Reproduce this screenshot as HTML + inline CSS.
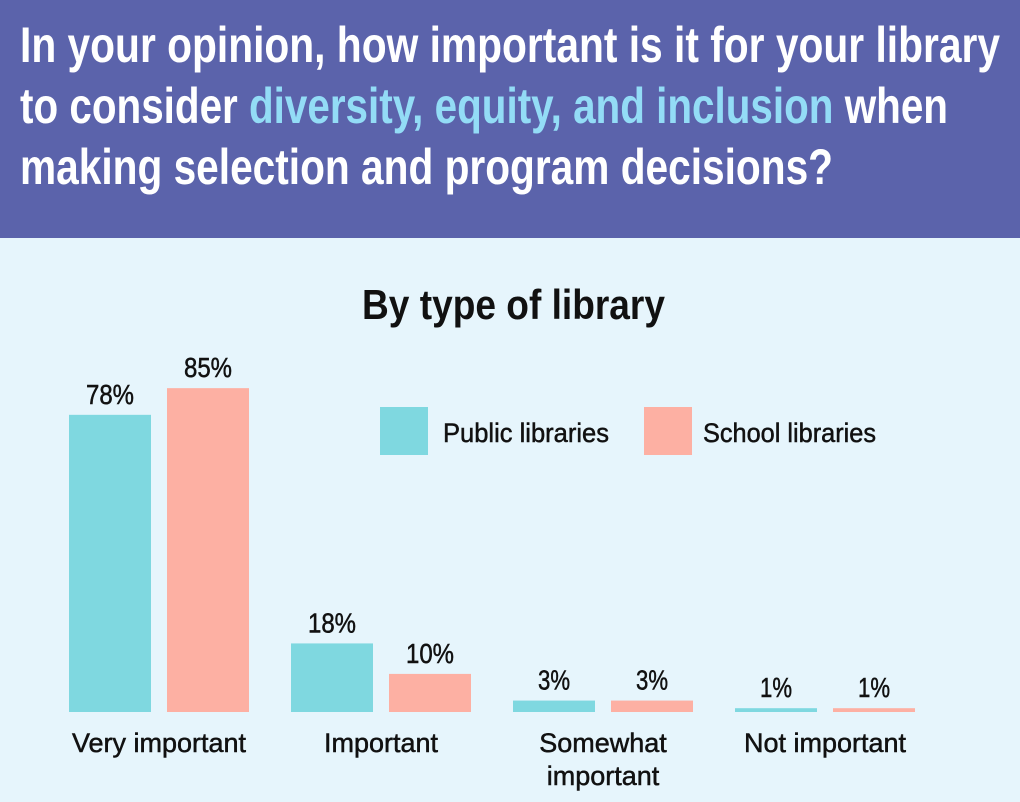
<!DOCTYPE html>
<html><head><meta charset="utf-8"><style>
html,body{margin:0;padding:0;background:#e6f5fc;}
svg{display:block;font-family:"Liberation Sans",sans-serif;}
</style></head><body>
<svg id="chart" width="1020" height="802" viewBox="0 0 1020 802">
<rect x="0" y="0" width="1020" height="802" fill="#e6f5fc"/>
<rect x="0" y="0" width="1020" height="238" fill="#5b63ab"/>
<g font-weight="bold" font-size="50" fill="#ffffff">
<text x="20" y="62" textLength="980" lengthAdjust="spacingAndGlyphs">In your opinion, how important is it for your library</text>
<text x="20" y="123" textLength="928" lengthAdjust="spacingAndGlyphs">to consider <tspan fill="#93dcf6">diversity, equity, and inclusion</tspan> when</text>
<text x="20" y="184" textLength="813" lengthAdjust="spacingAndGlyphs">making selection and program decisions?</text>
</g>
<text x="362" y="319" font-size="42" font-weight="bold" fill="#111" textLength="303" lengthAdjust="spacingAndGlyphs">By type of library</text>
<g>
<rect x="380" y="407" width="48" height="48" fill="#7fd8e0"/>
<text x="443" y="442" font-size="27" fill="#111" stroke="#111" stroke-width="0.5" textLength="166" lengthAdjust="spacingAndGlyphs">Public libraries</text>
<rect x="644" y="407" width="48" height="48" fill="#fdb0a3"/>
<text x="703" y="442" font-size="27" fill="#111" stroke="#111" stroke-width="0.5" textLength="173" lengthAdjust="spacingAndGlyphs">School libraries</text>
</g>
<g id="bars"></g>
</svg>
<script>
const categories = ["Very important", "Important", "Somewhat important", "Not important"];
const publicValues = [78, 18, 3, 1];
const schoolValues = [85, 10, 3, 1];
const valueLabels = ["78%", "18%", "3%", "1%"];
const schoolLabels = ["85%", "10%", "3%", "1%"];

const NS = "http://www.w3.org/2000/svg";
const baseY = 712, pxPerPct = 3.81, firstX = 69, groupStep = 222, barW = 82, barGap = 16;
function yScale(v){ return baseY - v * pxPerPct; }
function xScale(i, s){ return firstX + i * groupStep + s * (barW + barGap); }
const g = document.getElementById("bars");
function mk(tag, attrs){ const e = document.createElementNS(NS, tag); for (const k in attrs) e.setAttribute(k, attrs[k]); return e; }
const series = [[publicValues, valueLabels, "#7fd8e0", "public"], [schoolValues, schoolLabels, "#fdb0a3", "school"]];
categories.forEach((cat, i) => {
  series.forEach((s, si) => {
    const v = s[0][i];
    const x = xScale(i, si), y = yScale(v);
    const r = mk("rect", {x: x, y: y, width: barW, height: baseY - y, fill: s[2]});
    
    
    g.appendChild(r);
    const lbl = s[1][i];
    const t = mk("text", {x: x + barW / 2, y: y - 11, "font-size": 28, fill: "#111", stroke: "#111", "stroke-width": 0.5, "text-anchor": "middle", textLength: lbl.length * 16, lengthAdjust: "spacingAndGlyphs"});
    t.textContent = lbl;
    
    
    g.appendChild(t);
  });
  const cx = xScale(i, 0) + barW + barGap / 2;
  const words = cat === "Somewhat important" ? ["Somewhat", "important"] : [cat];
  words.forEach((w, wi) => {
    const t = mk("text", {x: cx, y: 752 + wi * 33, "font-size": 27, fill: "#111", stroke: "#111", "stroke-width": 0.5, "text-anchor": "middle"});
    t.textContent = w;
    
    
    g.appendChild(t);
  });
});
</script>
</body></html>
